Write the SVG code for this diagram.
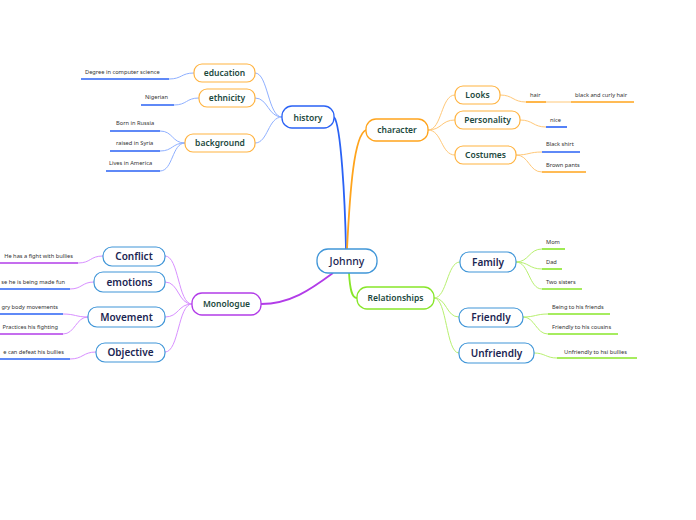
<svg xmlns="http://www.w3.org/2000/svg" width="696" height="520" viewBox="0 0 696 520">
<style>
text{font-family:"Noto Sans","Open Sans","Liberation Sans",sans-serif}
.main rect{fill:#fff;stroke-width:1.3}
.sub rect{fill:#fff;stroke-width:1.2}
.t1{font-size:8.5px;font-weight:600;fill:#1d4a3e;text-anchor:middle}
.t2{font-size:10px;font-weight:600;fill:#1a2552;text-anchor:middle}
.leaf{font-size:5.7px;fill:#333}
.end{text-anchor:end}
.c{fill:none}
.ul{fill:none;stroke-width:1.6}
</style>
<rect width="696" height="520" fill="#fff"/>
<g id="connectors">
<path class="c" d="M346,249 C345,200 341,125 334,117" stroke="#2a62f5" stroke-width="1.8"/>
<path class="c" d="M347,249 C350,190 354,135 366,130" stroke="#ffa41c" stroke-width="1.8"/>
<path class="c" d="M333,273 C310,290 290,304 261,304" stroke="#b23ce8" stroke-width="1.8"/>
<path class="c" d="M349,273 C350,290 352,298 357,298" stroke="#88e62a" stroke-width="1.8"/>
<g stroke="#8fb0ff" stroke-width="1">
<path class="c" d="M282,117 C268,117 268,73 255,73"/>
<path class="c" d="M282,117 C268,117 268,98 255,98"/>
<path class="c" d="M282,117 C268,117 268,143 255,143"/>
<path class="c" d="M194,73 C181,73 182,79 169,79"/>
<path class="c" d="M199,98 C186,98 187,105 174,105"/>
<path class="c" d="M185,143 C172,143 173,131 160,131"/>
<path class="c" d="M185,143 C172,143 173,151 160,151"/>
<path class="c" d="M185,143 C172,143 173,171 160,171"/>
</g>
<g stroke="#ffc878" stroke-width="1">
<path class="c" d="M428,130 C442,130 441,95 455,95"/>
<path class="c" d="M428,130 C442,130 441,120 455,120"/>
<path class="c" d="M428,130 C442,130 441,155 455,155"/>
<path class="c" d="M500,95 C513,95 513,102 526,102"/>
<path class="c" d="M546,102 L571,102"/>
<path class="c" d="M520,120 C533,120 533,127 546,127"/>
<path class="c" d="M516,155 C529,155 529,152 542,152"/>
<path class="c" d="M516,155 C529,155 529,172 542,172"/>
</g>
<g stroke="#d890ff" stroke-width="1">
<path class="c" d="M192,304 C178,304 179,256 165,256"/>
<path class="c" d="M192,304 C178,304 179,282 165,282"/>
<path class="c" d="M192,304 C178,304 179,317 165,317"/>
<path class="c" d="M192,304 C178,304 179,352 165,352"/>
<path class="c" d="M103,256 C90,256 91,263 78,263"/>
<path class="c" d="M94,282 C82,282 82,289 70,289"/>
<path class="c" d="M88,317 C76,317 75,314 63,314"/>
<path class="c" d="M88,317 C76,317 75,334 63,334"/>
<path class="c" d="M96,352 C83,352 83,359 70,359"/>
</g>
<g stroke="#b8f070" stroke-width="1">
<path class="c" d="M434,298 C447,298 447,262 460,262"/>
<path class="c" d="M434,298 C447,298 446,317 459,317"/>
<path class="c" d="M434,298 C447,298 446,353 459,353"/>
<path class="c" d="M516,262 C529,262 529,249 542,249"/>
<path class="c" d="M516,262 C529,262 529,269 542,269"/>
<path class="c" d="M516,262 C529,262 529,289 542,289"/>
<path class="c" d="M523,317 C535,317 536,314 548,314"/>
<path class="c" d="M523,317 C535,317 536,334 548,334"/>
<path class="c" d="M534,353 C545,353 546,358 557,358"/>
</g>
</g>
<g id="johnny" class="main"><rect x="317" y="249" width="60" height="24" rx="11" stroke="#4096d8"/><text class="t2" x="347" y="265" style="font-size:10.5px;font-weight:500">Johnny</text></g>
<g id="history" class="main"><rect x="282" y="106" width="52" height="22" rx="10" stroke="#2a62f5"/><text class="t1" x="308" y="120.5">history</text></g>
<g id="character" class="main"><rect x="366" y="119" width="62" height="22" rx="10" stroke="#ffa41c"/><text class="t1" x="397" y="133">character</text></g>
<g id="monologue" class="main"><rect x="192" y="293" width="69" height="22" rx="10" stroke="#b23ce8"/><text class="t1" x="226.5" y="307">Monologue</text></g>
<g id="relationships" class="main"><rect x="357" y="287" width="77" height="22" rx="10" stroke="#88e62a"/><text class="t1" x="395.5" y="301">Relationships</text></g>
<g id="education" class="sub"><rect x="194" y="64" width="61" height="18" rx="8" stroke="#ffb340"/><text class="t1" x="224.5" y="76">education</text></g>
<g id="ethnicity" class="sub"><rect x="199" y="89" width="56" height="18" rx="8" stroke="#ffb340"/><text class="t1" x="227" y="101">ethnicity</text></g>
<g id="background" class="sub"><rect x="185" y="134" width="70" height="18" rx="8" stroke="#ffb340"/><text class="t1" x="220" y="146">background</text></g>
<g id="looks" class="sub"><rect x="455" y="86" width="45" height="18" rx="8" stroke="#ffb340"/><text class="t1" x="477.5" y="98">Looks</text></g>
<g id="personality" class="sub"><rect x="455" y="111" width="65" height="18" rx="8" stroke="#ffb340"/><text class="t1" x="487.5" y="123">Personality</text></g>
<g id="costumes" class="sub"><rect x="455" y="146" width="61" height="18" rx="8" stroke="#ffb340"/><text class="t1" x="485.5" y="158">Costumes</text></g>
<g id="conflict" class="sub"><rect x="103" y="247" width="62" height="19" rx="9" stroke="#4096d8"/><text class="t2" x="134" y="260">Conflict</text></g>
<g id="emotions" class="sub"><rect x="94" y="272" width="71" height="20" rx="9" stroke="#4096d8"/><text class="t2" x="129.5" y="285.5">emotions</text></g>
<g id="movement" class="sub"><rect x="88" y="307" width="77" height="20" rx="9" stroke="#4096d8"/><text class="t2" x="126.5" y="320.5">Movement</text></g>
<g id="objective" class="sub"><rect x="96" y="343" width="69" height="19" rx="9" stroke="#4096d8"/><text class="t2" x="130.5" y="356">Objective</text></g>
<g id="family" class="sub"><rect x="460" y="252" width="56" height="20" rx="9" stroke="#4096d8"/><text class="t2" x="488" y="265.5">Family</text></g>
<g id="friendly" class="sub"><rect x="459" y="308" width="64" height="19" rx="9" stroke="#4096d8"/><text class="t2" x="491" y="321">Friendly</text></g>
<g id="unfriendly" class="sub"><rect x="459" y="343" width="75" height="20" rx="9" stroke="#4096d8"/><text class="t2" x="496.5" y="356.5">Unfriendly</text></g>
<g id="leaf-degree"><text class="leaf" x="85" y="74">Degree in computer science</text><path class="ul" d="M81,79H169" stroke="#2a62f5"/></g>
<g id="leaf-nigerian"><text class="leaf" x="145" y="99">Nigerian</text><path class="ul" d="M141,105H174" stroke="#2a62f5"/></g>
<g id="leaf-russia"><text class="leaf" x="116" y="125">Born in Russia</text><path class="ul" d="M110,131H160" stroke="#2a62f5"/></g>
<g id="leaf-syria"><text class="leaf" x="116" y="145">raised in Syria</text><path class="ul" d="M110,151H160" stroke="#2a62f5"/></g>
<g id="leaf-america"><text class="leaf" x="109" y="165">Lives in America</text><path class="ul" d="M106,171H160" stroke="#2a62f5"/></g>
<g id="leaf-hair"><text class="leaf" x="530" y="97">hair</text><path class="ul" d="M526,102H546" stroke="#ffa41c"/></g>
<g id="leaf-curly"><text class="leaf" x="575" y="97">black and curly hair</text><path class="ul" d="M571,102H634" stroke="#ffa41c"/></g>
<g id="leaf-nice"><text class="leaf" x="550" y="122">nice</text><path class="ul" d="M546,127H567" stroke="#2a62f5"/></g>
<g id="leaf-shirt"><text class="leaf" x="546" y="146">Black shirt</text><path class="ul" d="M542,152H580" stroke="#2a62f5"/></g>
<g id="leaf-pants"><text class="leaf" x="546" y="167">Brown pants</text><path class="ul" d="M542,172H586" stroke="#ffa41c"/></g>
<g id="leaf-fight"><text class="leaf end" x="73" y="258">He has a fight with bullies</text><path class="ul" d="M0,263H78" stroke="#b23ce8"/></g>
<g id="leaf-madefun"><text class="leaf end" x="65" y="284">se he is being made fun</text><path class="ul" d="M0,289H70" stroke="#2a62f5"/></g>
<g id="leaf-angry"><text class="leaf end" x="58" y="309">gry body movements</text><path class="ul" d="M0,314H63" stroke="#2a62f5"/></g>
<g id="leaf-practices"><text class="leaf end" x="58" y="329">Practices his fighting</text><path class="ul" d="M0,334H63" stroke="#b23ce8"/></g>
<g id="leaf-defeat"><text class="leaf end" x="64" y="354">e can defeat his bullies</text><path class="ul" d="M0,359H70" stroke="#2a62f5"/></g>
<g id="leaf-mom"><text class="leaf" x="546" y="244">Mom</text><path class="ul" d="M542,249H565" stroke="#88e62a"/></g>
<g id="leaf-dad"><text class="leaf" x="546" y="264">Dad</text><path class="ul" d="M542,269H562" stroke="#88e62a"/></g>
<g id="leaf-sisters"><text class="leaf" x="546" y="284">Two sisters</text><path class="ul" d="M542,289H582" stroke="#88e62a"/></g>
<g id="leaf-friends"><text class="leaf" x="552" y="309">Being to his friends</text><path class="ul" d="M548,314H610" stroke="#88e62a"/></g>
<g id="leaf-cousins"><text class="leaf" x="552" y="329">Friendly to his cousins</text><path class="ul" d="M548,334H618" stroke="#88e62a"/></g>
<g id="leaf-bullies"><text class="leaf" x="564" y="354">Unfriendly to hsi bullies</text><path class="ul" d="M557,358H637" stroke="#88e62a"/></g>
</svg>
